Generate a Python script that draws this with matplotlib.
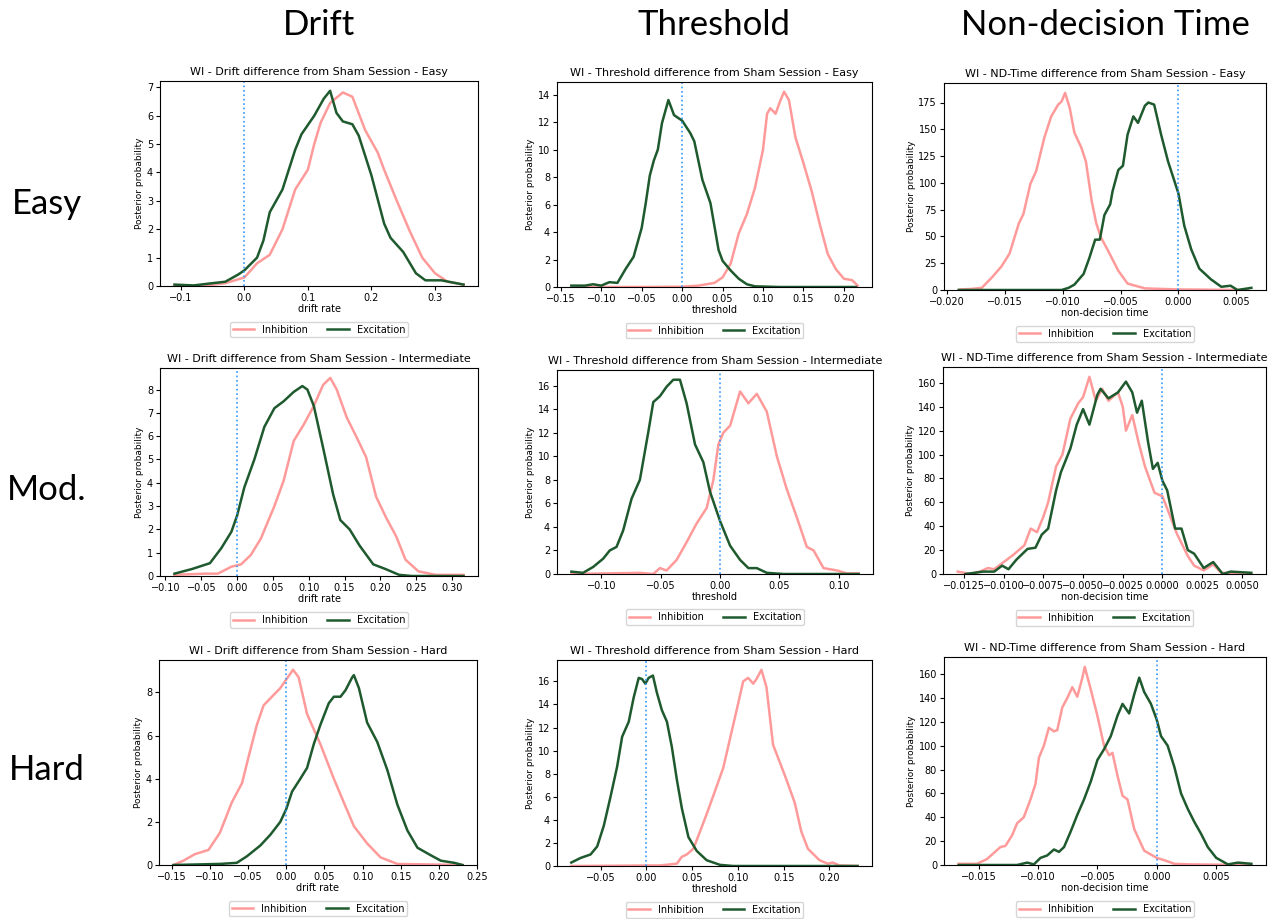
import matplotlib
matplotlib.use("Agg")
import matplotlib.pyplot as plt

# --- data (posterior density curves) ---

# Drift - Easy
drift_easy_inh_x = [-0.11, -0.06, -0.03, 0.0, 0.02, 0.04, 0.06, 0.08, 0.10, 0.11, 0.12, 0.135, 0.155, 0.17,
                    0.19, 0.21, 0.22, 0.24, 0.26, 0.28, 0.30, 0.32, 0.345]
drift_easy_inh_y = [0.0, 0.02, 0.1, 0.3, 0.8, 1.1, 2.0, 3.4, 4.1, 5.0, 5.75, 6.45, 6.82, 6.67,
                    5.5, 4.7, 4.1, 3.0, 1.95, 1.0, 0.45, 0.15, 0.05]
drift_easy_exc_x = [-0.11, -0.08, -0.05, -0.03, -0.01, 0.0, 0.02, 0.03, 0.04, 0.06, 0.08, 0.09, 0.11, 0.125,
                    0.135, 0.145, 0.155, 0.17, 0.18, 0.2, 0.22, 0.23, 0.25, 0.27, 0.285, 0.31, 0.345]
drift_easy_exc_y = [0.05, 0.02, 0.1, 0.15, 0.4, 0.55, 1.0, 1.6, 2.6, 3.4, 4.8, 5.35, 6.0, 6.6,
                    6.88, 6.1, 5.8, 5.7, 5.3, 3.9, 2.2, 1.7, 1.2, 0.45, 0.2, 0.2, 0.05]

# Threshold - Easy
thr_easy_inh_x = [-0.13, -0.05, 0.0, 0.02, 0.04, 0.05, 0.06, 0.07, 0.08, 0.09, 0.10, 0.105, 0.109, 0.1155,
                  0.121, 0.126, 0.132, 0.14, 0.15, 0.16, 0.17, 0.18, 0.19, 0.20, 0.21, 0.217]
thr_easy_inh_y = [0.0, 0.0, 0.02, 0.1, 0.3, 0.7, 1.7, 3.9, 5.3, 7.2, 10.0, 12.6, 13.0, 12.6,
                  13.5, 14.2, 13.6, 10.9, 9.0, 7.0, 4.6, 2.4, 1.3, 0.6, 0.5, 0.1]
thr_easy_exc_x = [-0.137, -0.12, -0.11, -0.10, -0.09, -0.08, -0.07, -0.06, -0.05, -0.045, -0.04, -0.035,
                  -0.03, -0.025, -0.017, -0.01, 0.0, 0.01, 0.015, 0.025, 0.035, 0.04, 0.045, 0.05, 0.06,
                  0.07, 0.08, 0.09, 0.12, 0.16, 0.215]
thr_easy_exc_y = [0.1, 0.1, 0.2, 0.1, 0.35, 0.3, 1.3, 2.2, 4.3, 6.1, 8.1, 9.2,
                  10.0, 11.9, 13.6, 12.5, 12.1, 11.2, 10.6, 7.8, 6.1, 4.4, 2.7, 1.9, 1.2,
                  0.6, 0.2, 0.05, 0.0, 0.0, 0.0]

# Non-decision time - Easy
nd_easy_inh_x = [-0.0189, -0.0179, -0.017, -0.0161, -0.0153, -0.0146, -0.0138, -0.0134, -0.0128, -0.0123,
                 -0.0116, -0.011, -0.0104, -0.0101, -0.0098, -0.0094, -0.009, -0.0084, -0.008, -0.0075,
                 -0.0071, -0.0067, -0.0061, -0.0052, -0.0044, -0.0029, 0.0, 0.006]
nd_easy_inh_y = [0.5, 1, 2, 12, 22, 34, 62, 71, 99, 111,
                 142, 162, 173, 176, 184, 170, 147, 133, 120, 83,
                 62, 49, 37, 18, 6, 1.5, 0.5, 0]
nd_easy_exc_x = [-0.019, -0.0101, -0.0095, -0.009, -0.0082, -0.0077, -0.0072, -0.0068, -0.0064, -0.0059,
                 -0.0057, -0.0052, -0.0048, -0.0044, -0.0039, -0.0035, -0.0029, -0.0026, -0.0021, -0.0015,
                 -0.0009, 0.0, 0.0005, 0.0011, 0.0018, 0.0028, 0.0037, 0.0045, 0.0051, 0.0063]
nd_easy_exc_y = [0, 0, 2, 5, 15, 30, 47, 47, 70, 80,
                 92, 112, 116, 145, 162, 156, 172, 175, 173, 145,
                 120, 90, 60, 38, 20, 10, 3, 4, 0, 2]

# Drift - Intermediate
drift_mod_inh_x = [-0.0875, -0.045, -0.027, -0.008, 0.0055, 0.019, 0.033, 0.052, 0.065, 0.079, 0.093, 0.107,
                   0.12, 0.13, 0.139, 0.153, 0.166, 0.18, 0.194, 0.208, 0.222, 0.235, 0.253, 0.277, 0.316]
drift_mod_inh_y = [0.05, 0.1, 0.1, 0.4, 0.5, 0.9, 1.6, 3.0, 4.1, 5.8, 6.5, 7.3,
                   8.2, 8.5, 8.0, 6.8, 6.0, 5.1, 3.4, 2.5, 1.7, 0.7, 0.2, 0.05, 0.05]
drift_mod_exc_x = [-0.0875, -0.063, -0.038, -0.022, -0.008, 0.0, 0.01, 0.024, 0.038, 0.052, 0.065, 0.079,
                   0.091, 0.098, 0.107, 0.12, 0.134, 0.144, 0.157, 0.171, 0.19, 0.207, 0.226, 0.244, 0.316]
drift_mod_exc_y = [0.1, 0.3, 0.55, 1.2, 1.9, 2.6, 3.8, 5.0, 6.4, 7.2, 7.5, 7.9,
                   8.15, 8.0, 7.3, 5.5, 3.5, 2.4, 2.0, 1.3, 0.5, 0.3, 0.05, 0.0, 0.0]

# Threshold - Intermediate
thr_mod_inh_x = [-0.1254, -0.0676, -0.0563, -0.0507, -0.0451, -0.0366, -0.0282, -0.0197, -0.0113, -0.0056,
                 -0.0014, 0.0028, 0.0085, 0.0169, 0.0239, 0.031, 0.0394, 0.0479, 0.0563, 0.0648, 0.0732,
                 0.0789, 0.0873, 0.0986, 0.107, 0.1169]
thr_mod_inh_y = [0.0, 0.1, 0.0, 0.5, 0.3, 1.2, 2.7, 4.3, 5.6, 8.0,
                 11.0, 12.0, 12.6, 15.5, 14.5, 15.3, 13.8, 10.0, 7.2, 4.8, 2.3,
                 2.0, 0.5, 0.3, 0.05, 0.05]
thr_mod_exc_x = [-0.1254, -0.1155, -0.107, -0.0986, -0.093, -0.0873, -0.0817, -0.0746, -0.0676, -0.0606,
                 -0.0563, -0.0507, -0.0451, -0.0394, -0.0338, -0.0282, -0.0211, -0.0141, -0.0085, 0.0,
                 0.0085, 0.0169, 0.0239, 0.031, 0.0394, 0.0535, 0.1169]
thr_mod_exc_y = [0.2, 0.1, 0.6, 1.3, 2.0, 2.3, 3.7, 6.4, 8.0, 12.0,
                 14.6, 15.1, 15.9, 16.5, 16.5, 14.5, 11.0, 9.5, 7.0, 4.5,
                 2.4, 1.2, 0.5, 0.5, 0.1, 0.0, 0.0]

# Non-decision time - Intermediate
nd_mod_inh_x = [-0.0129, -0.0121, -0.0115, -0.0110, -0.0106, -0.0100, -0.0094, -0.0087, -0.0083, -0.0079,
                -0.0075, -0.0072, -0.0067, -0.0063, -0.0058, -0.0053, -0.0050, -0.0046, -0.0042, -0.0038,
                -0.0034, -0.0028, -0.0025, -0.0023, -0.0019, -0.0015, -0.0011, -0.0005, 0.0, 0.0005,
                0.0009, 0.0016, 0.0020, 0.0026, 0.0032, 0.0037, 0.0056]
nd_mod_inh_y = [2, 0, 2, 5, 4, 10, 16, 24, 38, 35,
                48, 60, 90, 100, 130, 143, 148, 165, 145, 155,
                145, 152, 140, 120, 133, 110, 90, 68, 65, 48,
                34, 15, 7, 3, 8, 1, 0]
nd_mod_exc_x = [-0.0124, -0.0113, -0.0106, -0.0101, -0.0097, -0.0092, -0.0085, -0.008, -0.0076, -0.0072,
                -0.0067, -0.0064, -0.0058, -0.0054, -0.005, -0.0046, -0.0041, -0.0039, -0.0034, -0.0028,
                -0.0023, -0.0019, -0.0016, -0.0013, -0.0009, -0.0006, -0.0003, 0.0, 0.0003, 0.0008,
                0.0012, 0.0016, 0.002, 0.0026, 0.0032, 0.0038, 0.0043, 0.0056]
nd_mod_exc_y = [0, 2, 2, 7, 4, 12, 21, 22, 33, 38,
                70, 85, 105, 125, 138, 125, 150, 155, 147, 152,
                161, 152, 135, 145, 110, 88, 93, 78, 70, 38,
                38, 20, 17, 5, 10, 0, 2, 1]

# Drift - Hard
drift_hard_inh_x = [-0.148, -0.135, -0.120, -0.102, -0.087, -0.0715, -0.058, -0.0496, -0.0386, -0.0298,
                    -0.0189, -0.0079, 0.0, 0.0088, 0.0162, 0.0272, 0.0447, 0.0623, 0.0754, 0.0886, 0.106,
                    0.1237, 0.1456, 0.231]
drift_hard_inh_y = [0.0, 0.2, 0.5, 0.7, 1.5, 2.9, 3.8, 5.0, 6.5, 7.4,
                    7.8, 8.2, 8.6, 9.05, 8.7, 7.0, 5.6, 4.0, 2.9, 1.8, 1.0,
                    0.35, 0.05, 0.0]
drift_hard_exc_x = [-0.148, -0.087, -0.065, -0.0518, -0.0342, -0.021, -0.0079, 0.0, 0.0075, 0.0184,
                    0.0272, 0.036, 0.0447, 0.0557, 0.0623, 0.071, 0.0776, 0.0864, 0.0886, 0.0952,
                    0.106, 0.1193, 0.1325, 0.1456, 0.1588, 0.172, 0.1895, 0.2026, 0.2202, 0.2311]
drift_hard_exc_y = [0.0, 0.05, 0.1, 0.4, 0.9, 1.4, 2.0, 2.6, 3.4, 4.0,
                    4.5, 5.6, 6.5, 7.5, 7.8, 7.8, 8.1, 8.7, 8.8, 8.2,
                    6.6, 5.7, 4.4, 2.8, 1.6, 0.8, 0.45, 0.2, 0.1, 0.0]

# Threshold - Hard
thr_hard_inh_x = [-0.0819, 0.0152, 0.0333, 0.0388, 0.0442, 0.0514, 0.0587, 0.0659, 0.075, 0.084, 0.0913,
                  0.0986, 0.1058, 0.1112, 0.1167, 0.1203, 0.1257, 0.1312, 0.1384, 0.1457, 0.1529, 0.162,
                  0.1692, 0.1764, 0.1891, 0.1982, 0.2036, 0.2109, 0.2308]
thr_hard_inh_y = [0.0, 0.05, 0.2, 0.8, 1.0, 1.5, 3.0, 4.5, 6.5, 8.5, 11.0,
                  13.5, 16.0, 16.3, 15.8, 16.2, 17.0, 15.5, 10.5, 9.0, 7.5, 5.5,
                  3.0, 1.5, 0.5, 0.2, 0.3, 0.05, 0.0]
thr_hard_exc_x = [-0.0819, -0.0717, -0.0609, -0.0536, -0.0464, -0.0391, -0.0319, -0.0264, -0.0192, -0.0138,
                  -0.0083, -0.0047, -0.0011, 0.0025, 0.0072, 0.0116, 0.017, 0.0225, 0.0279, 0.0333,
                  0.0388, 0.046, 0.0551, 0.0659, 0.0804, 0.0949, 0.2308]
thr_hard_exc_y = [0.3, 0.7, 1.0, 1.7, 3.5, 6.0, 8.6, 11.2, 12.5, 14.6,
                  16.3, 16.2, 15.8, 16.3, 16.5, 15.0, 13.5, 12.5, 10.3, 7.5,
                  5.0, 2.5, 1.3, 0.5, 0.1, 0.0, 0.0]

# Non-decision time - Hard
nd_hard_inh_x = [-0.01672, -0.01517, -0.01432, -0.01376, -0.0132, -0.01277, -0.0122, -0.01178, -0.01122,
                 -0.01065, -0.01023, -0.00994, -0.00952, -0.0091, -0.00867, -0.00839, -0.00797, -0.00754,
                 -0.00712, -0.0067, -0.00627, -0.00607, -0.00556, -0.005, -0.00444, -0.00401, -0.00373,
                 -0.00331, -0.00288, -0.00246, -0.00189, -0.00105, 0.0, 0.00065, 0.0015, 0.0029, 0.008]
nd_hard_inh_y = [1, 1, 5, 10, 15, 16, 25, 35, 40,
                 55, 68, 90, 100, 115, 112, 113, 132, 140,
                 149, 141, 157, 166, 147, 125, 100, 92, 94,
                 75, 58, 55, 30, 12, 6, 4, 1, 0.5, 0]
nd_hard_exc_x = [-0.01672, -0.01178, -0.01093, -0.01037, -0.0098, -0.00924, -0.00867, -0.00825, -0.00782,
                 -0.00726, -0.0067, -0.00613, -0.00556, -0.005, -0.00444, -0.00387, -0.00331, -0.00288,
                 -0.00232, -0.00189, -0.00147, -0.00105, -0.00048, 0.0, 0.00037, 0.00093, 0.0015, 0.00206,
                 0.00263, 0.00319, 0.00376, 0.00432, 0.00503, 0.00602, 0.00686, 0.008]
nd_hard_exc_y = [0, 0, 2, 0.5, 6, 8, 13, 11, 15,
                 28, 42, 55, 70, 88, 97, 108, 125, 135,
                 127, 143, 157, 145, 135, 122, 108, 100, 82, 60,
                 47, 36, 26, 15, 6, 0.5, 2, 1]

col_titles = ["Drift", "Threshold", "Non-decision Time"]
row_labels = ["Easy", "Mod.", "Hard"]
levels = ["Easy", "Intermediate", "Hard"]
params = ["Drift", "Threshold", "ND-Time"]
xlabels = ["drift rate", "threshold", "non-decision time"]

curves = [
    [(drift_easy_inh_x, drift_easy_inh_y, drift_easy_exc_x, drift_easy_exc_y),
     (thr_easy_inh_x, thr_easy_inh_y, thr_easy_exc_x, thr_easy_exc_y),
     (nd_easy_inh_x, nd_easy_inh_y, nd_easy_exc_x, nd_easy_exc_y)],
    [(drift_mod_inh_x, drift_mod_inh_y, drift_mod_exc_x, drift_mod_exc_y),
     (thr_mod_inh_x, thr_mod_inh_y, thr_mod_exc_x, thr_mod_exc_y),
     (nd_mod_inh_x, nd_mod_inh_y, nd_mod_exc_x, nd_mod_exc_y)],
    [(drift_hard_inh_x, drift_hard_inh_y, drift_hard_exc_x, drift_hard_exc_y),
     (thr_hard_inh_x, thr_hard_inh_y, thr_hard_exc_x, thr_hard_exc_y),
     (nd_hard_inh_x, nd_hard_inh_y, nd_hard_exc_x, nd_hard_exc_y)],
]

# axes boxes in pixels (left, top, right, bottom)
W, H = 1275, 919
boxes = [
    [(160, 81, 478, 286), (557, 82, 872, 287), (944, 83, 1266, 290)],
    [(160, 368, 478, 576), (557, 370, 873, 574), (943, 367, 1266, 574)],
    [(159, 660, 477, 865), (557, 660, 872, 866), (944, 657, 1266, 865)],
]

inh_color = "#ff9a9a"
exc_color = "#1e5a2e"

fig = plt.figure(figsize=(W / 100, H / 100), dpi=100)

for r in range(3):
    for c in range(3):
        l, t, rr, b = boxes[r][c]
        ax = fig.add_axes([l / W, 1 - b / H, (rr - l) / W, (b - t) / H])
        ix, iy, ex, ey = curves[r][c]
        ax.plot(ix, iy, color=inh_color, lw=1.8, label="Inhibition", solid_joinstyle="round")
        ax.plot(ex, ey, color=exc_color, lw=1.8, label="Excitation", solid_joinstyle="round")
        ax.axvline(0, color="#3399ff", ls=":", lw=1.2)
        ax.set_ylim(bottom=0)
        ax.set_title(f"WI - {params[c]} difference from Sham Session - {levels[r]}", fontsize=8, pad=4)
        ax.set_xlabel(xlabels[c], fontsize=7, labelpad=1)
        ax.set_ylabel("Posterior probability", fontsize=6.5, labelpad=2)
        ax.tick_params(labelsize=7, length=3, pad=2)
        ax.legend(loc="upper center", bbox_to_anchor=(0.5, -0.15), ncol=2, fontsize=7,
                  handlelength=2.2, columnspacing=2.0, borderpad=0.3)

for c, txt in enumerate(col_titles):
    l, t, rr, b = boxes[0][c]
    fig.text((l + rr) / 2 / W, 1 - 25 / H, txt, fontsize=25, family="Lato", ha="center", va="center")

row_y = [204, 490, 770]
for r, txt in enumerate(row_labels):
    fig.text(47 / W, 1 - row_y[r] / H, txt, fontsize=25, family="Lato", ha="center", va="center")

fig.savefig("out.png", dpi=100)
